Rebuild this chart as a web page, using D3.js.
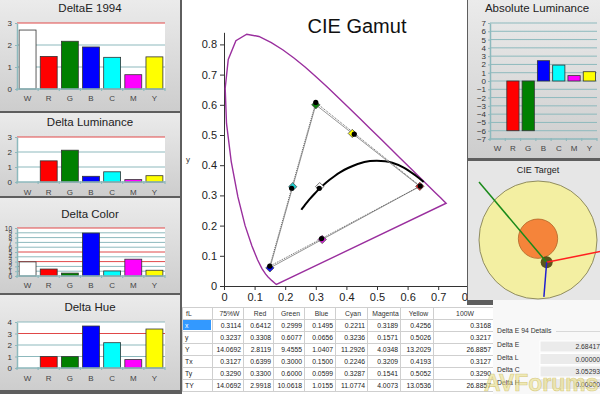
<!DOCTYPE html>
<html>
<head>
<meta charset="utf-8">
<script src="https://cdn.jsdelivr.net/npm/d3@7"></script>
<style>
body { margin: 0; background: #5e5e5e; }
svg { display: block; font-family: "Liberation Sans", Arial, sans-serif; }
</style>
</head>
<body>
<svg id="chart" width="600" height="394"></svg>
<script>
// ---- data ----
var cats = ["W", "R", "G", "B", "C", "M", "Y"];
var catColors = ["#ffffff", "#ff0000", "#008000", "#0000ff", "#00ffff", "#ff00ff", "#ffff00"];

var deltaE94   = [2.68, 1.48, 2.17, 1.91, 1.44, 0.65, 1.46];
var deltaLum   = [0, 1.41, 2.12, 0.38, 0.68, 0.16, 0.42];
var deltaColor = [2.94, 1.45, 0.6, 8.95, 1.05, 3.5, 1.2];
var deltaHue   = [0, 0.99, 0.99, 3.65, 2.2, 0.73, 3.39];
var absLum     = [0, -6.0, -6.0, 2.45, 1.92, 0.65, 1.12];

// CIE 1931 spectral locus (x, y), 420..650 nm
var locusX = [0.1714, 0.1689, 0.1644, 0.1566, 0.1440, 0.1355, 0.1241, 0.1096, 0.0913, 0.0687, 0.0454, 0.0235, 0.0082, 0.0039, 0.0139, 0.0389, 0.0743, 0.1142, 0.1547, 0.1929, 0.2296, 0.2658, 0.3016, 0.3373, 0.3731, 0.4087, 0.4441, 0.4788, 0.5125, 0.5448, 0.5752, 0.6029, 0.6270, 0.6658, 0.6915, 0.7079, 0.7190, 0.7260];
var locusY = [0.0051, 0.0069, 0.0109, 0.0177, 0.0297, 0.0399, 0.0578, 0.0868, 0.1327, 0.2007, 0.2950, 0.4127, 0.5384, 0.6548, 0.7502, 0.8120, 0.8338, 0.8262, 0.8059, 0.7816, 0.7543, 0.7243, 0.6923, 0.6589, 0.6245, 0.5896, 0.5547, 0.5202, 0.4866, 0.4544, 0.4242, 0.3965, 0.3725, 0.3340, 0.3083, 0.2920, 0.2809, 0.2740];

// black body curve
var planckX = [0.2527, 0.2565, 0.2637, 0.2719, 0.2807, 0.2952, 0.3064, 0.3221, 0.3451, 0.3608, 0.3805, 0.4053, 0.4369, 0.4770, 0.5267, 0.5497, 0.5857, 0.6249, 0.6526];
var planckY = [0.2525, 0.2577, 0.2671, 0.2776, 0.2884, 0.3048, 0.3166, 0.3318, 0.3516, 0.3636, 0.3768, 0.3907, 0.4041, 0.4137, 0.4133, 0.4081, 0.3931, 0.3669, 0.3446];

// table
var tableCols = ["75%W", "Red", "Green", "Blue", "Cyan", "Magenta", "Yellow", "100W"];
var tableRows = ["x", "y", "Y", "Tx", "Ty", "TY"];
var valX  = ["0.3114", "0.6412", "0.2999", "0.1495", "0.2211", "0.3189", "0.4256", "0.3168"];
var valY  = ["0.3237", "0.3308", "0.6077", "0.0656", "0.3236", "0.1571", "0.5026", "0.3217"];
var valL  = ["14.0692", "2.8119", "9.4555", "1.0407", "11.2926", "4.0348", "13.2029", "26.8857"];
var valTx = ["0.3127", "0.6399", "0.3000", "0.1500", "0.2246", "0.3209", "0.4193", "0.3127"];
var valTy = ["0.3290", "0.3300", "0.6000", "0.0599", "0.3287", "0.1541", "0.5052", "0.3290"];
var valTL = ["14.0692", "2.9918", "10.0618", "1.0155", "11.0774", "4.0073", "13.0536", "26.8857"];

// gamut points: W, R, G, B, C, M, Y (columns 0..6 of the table)
var gamutColors = ["#ffffff", "#ff2020", "#108010", "#1010ff", "#20d0d0", "#e020e0", "#ffff00"];

// CIE target (units of delta E)
var targetRings = [3, 1];
var targetPoint = [0.44, -1.13];
var targetVecX = [-3.44, 4.2, -0.14];
var targetVecY = [4.08, 0.84, -1.76];
var targetVecColors = ["#1a8a1a", "#ff2020", "#2020d0"];

var detailLabels = ["Delta E", "Delta L", "Delta C", "Delta H"];
var detailValues = ["2.68417", "0.00000", "3.05293", "0.00000"];

var teal = "#8db9bd";
var redLine = "#e04848";

var svg = d3.select("#chart");
var defs = svg.append("defs");
var grad = defs.append("linearGradient").attr("id", "panelGrad").attr("x1", 0).attr("y1", 0).attr("x2", 0).attr("y2", 1);
grad.append("stop").attr("offset", "0%").attr("stop-color", "#ebebeb");
grad.append("stop").attr("offset", "100%").attr("stop-color", "#cdcdcd");

svg.append("rect").attr("width", 600).attr("height", 394).attr("fill", "#5e5e5e");

// ---- left bar panels ----
function barPanel(p) {
    var g = svg.append("g");
    g.append("rect").attr("x", 0).attr("y", p.top).attr("width", 180).attr("height", p.h)
        .attr("fill", "url(#panelGrad)");
    g.append("text").attr("x", 90).attr("y", p.titleY).attr("text-anchor", "middle")
        .attr("font-size", 11.5).attr("fill", "#222").text(p.title);

    var x = d3.scaleBand().domain(cats).range([17, 165]).paddingInner(0.2).paddingOuter(0.1);
    var y = d3.scaleLinear().domain([0, p.max]).range([p.bottom, p.plotTop]);

    g.append("rect").attr("x", 17).attr("y", p.plotTop).attr("width", 148)
        .attr("height", p.bottom - p.plotTop).attr("fill", "#fff");

    g.selectAll(".grid").data(p.ticks.filter(function(t) { return t > 0; }))
        .enter().append("line")
            .attr("x1", 17).attr("x2", 165)
            .attr("y1", function(t) { return y(t); })
            .attr("y2", function(t) { return y(t); })
            .attr("stroke", function(t) { return p.red.indexOf(t) >= 0 ? redLine : teal; })
            .attr("stroke-width", 1);

    g.selectAll(".bar").data(p.values.map(function(v, i) { return {v: v, i: i}; }).filter(function(d) { return d.v > 0; }))
        .enter().append("rect")
            .attr("x", function(d) { return x(cats[d.i]); })
            .attr("y", function(d) { return y(d.v); })
            .attr("width", x.bandwidth())
            .attr("height", function(d) { return y(0) - y(d.v); })
            .attr("fill", function(d) { return catColors[d.i]; })
            .attr("stroke", "#333").attr("stroke-width", 0.8);

    // axes
    var yAxis = g.append("g").attr("transform", "translate(17,0)")
        .call(d3.axisLeft(y).tickValues(p.ticks).tickFormat(d3.format("d"))
            .tickSize(2).tickSizeOuter(0).tickPadding(3));
    yAxis.select(".domain").attr("stroke", teal).attr("stroke-width", 1.5);
    yAxis.selectAll(".tick line").attr("stroke", teal);
    yAxis.selectAll("text").attr("font-size", p.tickFont).attr("fill", "#333")
        .attr("font-family", "Liberation Sans, Arial, sans-serif");

    var edges = cats.map(function(c) { return x(c) - x.step() * 0.1; }).concat([165]);
    g.append("line").attr("x1", 17).attr("x2", 165).attr("y1", y(0)).attr("y2", y(0))
        .attr("stroke", teal).attr("stroke-width", 1.5);
    g.selectAll(".btick").data(edges).enter().append("line")
        .attr("x1", function(d) { return d; }).attr("x2", function(d) { return d; })
        .attr("y1", y(0) - 1).attr("y2", y(0) + 2)
        .attr("stroke", teal).attr("stroke-width", 1.2);

    g.selectAll(".cat").data(cats).enter().append("text")
        .attr("x", function(c) { return x(c) + x.bandwidth() / 2; })
        .attr("y", p.labelY).attr("text-anchor", "middle")
        .attr("font-size", 8).attr("fill", "#444").text(function(c) { return c; });
}

barPanel({top: 0, h: 111, title: "DeltaE 1994", titleY: 11.5, plotTop: 23, bottom: 89,
    values: deltaE94, max: 3, ticks: [0, 1, 2, 3], red: [3], labelY: 101, tickFont: 8});
barPanel({top: 113, h: 83, title: "Delta Luminance", titleY: 126, plotTop: 137, bottom: 182,
    values: deltaLum, max: 3, ticks: [0, 1, 2, 3], red: [3], labelY: 195, tickFont: 8});
barPanel({top: 198, h: 95, title: "Delta Color", titleY: 218, plotTop: 228, bottom: 276,
    values: deltaColor, max: 10, ticks: d3.range(0, 11), red: [3, 5, 10], labelY: 288, tickFont: 6.5});
barPanel({top: 295, h: 95, title: "Delta Hue", titleY: 311, plotTop: 322, bottom: 368,
    values: deltaHue, max: 4, ticks: [0, 1, 2, 3, 4], red: [3], labelY: 381, tickFont: 8});

// ---- CIE gamut chart ----
defs.append("clipPath").attr("id", "cieClip").append("rect")
    .attr("x", 182).attr("y", 0).attr("width", 285).attr("height", 305);
var cie = svg.append("g").attr("clip-path", "url(#cieClip)");
cie.append("rect").attr("x", 182).attr("y", 0).attr("width", 285).attr("height", 305).attr("fill", "#fff");

var xs = d3.scaleLinear().domain([0, 0.8]).range([224, 468.8]);
var ys = d3.scaleLinear().domain([0, 0.84]).range([286, 286 - 0.84 * 302]);
var tickFmt = function(d) { return d === 0 ? "0" : d3.format(".1f")(d); };
var tv = d3.range(0, 9).map(function(i) { return i / 10; });

var xAx = cie.append("g").attr("transform", "translate(0,286)")
    .call(d3.axisBottom(xs).tickValues(tv).tickFormat(tickFmt).tickSize(4).tickSizeOuter(0));
var yAx = cie.append("g").attr("transform", "translate(224,0)")
    .call(d3.axisLeft(ys).tickValues(tv).tickFormat(tickFmt).tickSize(4).tickSizeOuter(0));
[xAx, yAx].forEach(function(a) {
    a.select(".domain").attr("stroke", "#333");
    a.selectAll(".tick line").attr("stroke", "#333");
    a.selectAll("text").attr("font-size", 11).attr("fill", "#222")
        .attr("font-family", "Liberation Sans, Arial, sans-serif");
});
cie.append("text").attr("x", 186).attr("y", 162).attr("font-size", 8).attr("fill", "#333").text("y");

cie.append("text").attr("x", 357).attr("y", 33).attr("text-anchor", "middle")
    .attr("font-size", 20).attr("fill", "#111").text("CIE Gamut");

var locusLine = d3.line()
    .x(function(i) { return xs(locusX[i]); })
    .y(function(i) { return ys(locusY[i]); });
cie.append("path").attr("d", locusLine(d3.range(locusX.length)) + "Z")
    .attr("fill", "none").attr("stroke", "#9a2f9e").attr("stroke-width", 1.4);

var planckLine = d3.line().curve(d3.curveCatmullRom)
    .x(function(i) { return xs(planckX[i]); })
    .y(function(i) { return ys(planckY[i]); });
cie.append("path").attr("d", planckLine(d3.range(planckX.length)))
    .attr("fill", "none").attr("stroke", "#000").attr("stroke-width", 2);

var tri = [1, 2, 3];
var triTarget = d3.line()
    .x(function(i) { return xs(+valTx[i]); })
    .y(function(i) { return ys(+valTy[i]); });
var triMeas = d3.line()
    .x(function(i) { return xs(+valX[i]); })
    .y(function(i) { return ys(+valY[i]); });
cie.append("path").attr("d", triTarget(tri) + "Z").attr("fill", "none")
    .attr("stroke", "#8a8a8a").attr("stroke-width", 0.9);
cie.append("path").attr("d", triMeas(tri) + "Z").attr("fill", "none")
    .attr("stroke", "#555").attr("stroke-width", 0.9).attr("stroke-dasharray", "1,1");

var diamond = d3.symbol().type(d3.symbolSquare).size(34);
cie.selectAll(".tgt").data(d3.range(7)).enter().append("path")
    .attr("d", diamond)
    .attr("transform", function(i) { return "translate(" + xs(+valTx[i]) + "," + ys(+valTy[i]) + ") rotate(45)"; })
    .attr("fill", function(i) { return gamutColors[i]; })
    .attr("stroke", "#555").attr("stroke-width", 0.8);
cie.selectAll(".meas").data(d3.range(7)).enter().append("circle")
    .attr("cx", function(i) { return xs(+valX[i]); })
    .attr("cy", function(i) { return ys(+valY[i]); })
    .attr("r", 2.6).attr("fill", "#000");

// ---- table ----
var colEdges = [182, 212, 243, 273, 304, 335, 367, 400, 433, 493];
var rowTop = 307, rowH = 12;
var rowVals = [valX, valY, valL, valTx, valTy, valTL];
var tbl = svg.append("g").attr("font-size", 6.8);
tbl.append("rect").attr("x", 182).attr("y", rowTop - 2).attr("width", 311).attr("height", 89).attr("fill", "#fff");
tbl.append("rect").attr("x", 183).attr("y", rowTop + rowH + 1).attr("width", colEdges[1] - 184).attr("height", rowH - 2)
    .attr("fill", "#3399ff");
tbl.selectAll(".hl").data(d3.range(8)).enter().append("line")
    .attr("x1", 182).attr("x2", 493)
    .attr("y1", function(r) { return rowTop + r * rowH + 0.5; })
    .attr("y2", function(r) { return rowTop + r * rowH + 0.5; })
    .attr("stroke", "#cfcfcf");
tbl.selectAll(".vl").data(colEdges).enter().append("line")
    .attr("x1", function(x) { return x + 0.5; }).attr("x2", function(x) { return x + 0.5; })
    .attr("y1", rowTop).attr("y2", rowTop + 7 * rowH)
    .attr("stroke", "#cfcfcf");
tbl.append("text").attr("x", 186).attr("y", rowTop + 8.5).attr("fill", "#333").text("fL");
tbl.selectAll(".ch").data(tableCols).enter().append("text")
    .attr("x", function(c, i) { return (colEdges[i + 1] + colEdges[i + 2]) / 2 + 2; })
    .attr("y", rowTop + 8.5).attr("text-anchor", "middle").attr("fill", "#333")
    .text(function(c) { return c; });
tbl.selectAll(".rh").data(tableRows).enter().append("text")
    .attr("x", 185).attr("y", function(r, i) { return rowTop + (i + 1) * rowH + 8.5; })
    .attr("fill", function(r, i) { return i === 0 ? "#fff" : "#222"; })
    .text(function(r) { return r; });
rowVals.forEach(function(vals, r) {
    tbl.selectAll(".v" + r).data(vals).enter().append("text")
        .attr("x", function(v, i) { return colEdges[i + 2] - 2; })
        .attr("y", rowTop + (r + 1) * rowH + 8.5)
        .attr("text-anchor", "end").attr("fill", "#222")
        .text(function(v) { return v; });
});

// ---- Absolute Luminance ----
var al = svg.append("g");
al.append("rect").attr("x", 468).attr("y", 0).attr("width", 132).attr("height", 158).attr("fill", "url(#panelGrad)");
al.append("text").attr("x", 537).attr("y", 12).attr("text-anchor", "middle")
    .attr("font-size", 11.5).attr("fill", "#222").text("Absolute Luminance");
var ax = d3.scaleBand().domain(cats).range([490, 597]).paddingInner(0.2).paddingOuter(0.1);
var ay = d3.scaleLinear().domain([-7, 7]).range([139, 23]);
al.selectAll(".grid").data(d3.range(-6, 8)).enter().append("line")
    .attr("x1", 490).attr("x2", 597)
    .attr("y1", function(t) { return ay(t); }).attr("y2", function(t) { return ay(t); })
    .attr("stroke", teal);
al.selectAll(".bar").data(absLum.map(function(v, i) { return {v: v, i: i}; }).filter(function(d) { return d.v !== 0; }))
    .enter().append("rect")
        .attr("x", function(d) { return ax(cats[d.i]); })
        .attr("y", function(d) { return ay(Math.max(0, d.v)); })
        .attr("width", ax.bandwidth())
        .attr("height", function(d) { return Math.abs(ay(d.v) - ay(0)); })
        .attr("fill", function(d) { return catColors[d.i]; })
        .attr("stroke", "#333").attr("stroke-width", 0.8);
var alY = al.append("g").attr("transform", "translate(490,0)")
    .call(d3.axisLeft(ay).tickValues(d3.range(-7, 8)).tickFormat(d3.format("d"))
        .tickSize(2).tickSizeOuter(0).tickPadding(2));
alY.select(".domain").attr("stroke", teal).attr("stroke-width", 1.5);
alY.selectAll(".tick line").attr("stroke", teal);
alY.selectAll("text").attr("font-size", 8).attr("fill", "#333").attr("font-family", "Liberation Sans, Arial, sans-serif");
al.append("line").attr("x1", 490).attr("x2", 597).attr("y1", ay(-7)).attr("y2", ay(-7))
    .attr("stroke", teal).attr("stroke-width", 1.5);
al.selectAll(".btick").data(cats.map(function(c) { return ax(c) - ax.step() * 0.1; }).concat([597]))
    .enter().append("line")
        .attr("x1", function(d) { return d; }).attr("x2", function(d) { return d; })
        .attr("y1", ay(-7) - 1).attr("y2", ay(-7) + 2).attr("stroke", teal).attr("stroke-width", 1.2);
al.selectAll(".cat").data(cats).enter().append("text")
    .attr("x", function(c) { return ax(c) + ax.bandwidth() / 2; })
    .attr("y", 151).attr("text-anchor", "middle").attr("font-size", 8).attr("fill", "#444")
    .text(function(c) { return c; });

// ---- CIE Target ----
defs.append("clipPath").attr("id", "tgtClip").append("rect")
    .attr("x", 468).attr("y", 161).attr("width", 132).attr("height", 139);
var tg = svg.append("g").attr("clip-path", "url(#tgtClip)");
tg.append("rect").attr("x", 468).attr("y", 161).attr("width", 132).attr("height", 139).attr("fill", "#e6e6e6");
tg.append("text").attr("x", 538).attr("y", 173).attr("text-anchor", "middle")
    .attr("font-size", 9).attr("fill", "#222").text("CIE Target");
var tr = d3.scaleLinear().domain([0, 3]).range([0, 59]);
var tcx = 538, tcy = 240;
tg.selectAll(".ring").data(targetRings).enter().append("circle")
    .attr("cx", tcx).attr("cy", function(d, i) { return tcy - i * 1.3; })
    .attr("r", function(d) { return tr(d); })
    .attr("fill", function(d, i) { return i === 0 ? "#f3efa2" : "#f5843a"; })
    .attr("stroke", function(d, i) { return i === 0 ? "#77744a" : "#b0662a"; })
    .attr("stroke-width", 0.8);
var px = tcx + tr(targetPoint[0]), py = tcy - tr(targetPoint[1]);
tg.append("circle").attr("cx", px).attr("cy", py).attr("r", 6).attr("fill", "#4a420c").attr("opacity", 0.9);
tg.selectAll(".vec").data(d3.range(3)).enter().append("line")
    .attr("x1", px).attr("y1", py)
    .attr("x2", function(i) { return px + tr(targetVecX[i]); })
    .attr("y2", function(i) { return py - tr(targetVecY[i]); })
    .attr("stroke", function(i) { return targetVecColors[i]; })
    .attr("stroke-width", 1.5);

// ---- Delta E 94 details ----
var dd = svg.append("g");
dd.append("rect").attr("x", 493).attr("y", 300).attr("width", 107).attr("height", 94).attr("fill", "#f8f8f8");
dd.append("text").attr("x", 497).attr("y", 333).attr("font-size", 6.8).attr("fill", "#333").text("Delta E 94 Details");
dd.append("line").attr("x1", 556).attr("x2", 600).attr("y1", 331.5).attr("y2", 331.5).attr("stroke", "#d8d8d8");
dd.selectAll(".box").data(detailValues).enter().append("rect")
    .attr("x", 540).attr("y", function(d, i) { return 341 + i * 12.5; })
    .attr("width", 62).attr("height", 11).attr("fill", "#ebebeb").attr("stroke", "#fff");
dd.selectAll(".lab").data(detailLabels).enter().append("text")
    .attr("x", 497).attr("y", function(d, i) { return 347 + i * 12.5; })
    .attr("font-size", 6.8).attr("fill", "#333").text(function(d) { return d; });
dd.selectAll(".val").data(detailValues).enter().append("text")
    .attr("x", 600).attr("y", function(d, i) { return 349 + i * 12.5; })
    .attr("text-anchor", "end").attr("font-size", 6.8).attr("fill", "#333").text(function(d) { return d; });

// watermark
svg.append("text").attr("x", 484).attr("y", 391).attr("font-size", 23).attr("font-weight", "bold")
    .attr("fill", "#eadf8a").attr("fill-opacity", 0.6)
    .attr("stroke", "#c9b95a").attr("stroke-width", 0.6).attr("stroke-opacity", 0.7)
    .text("AVForums");
</script>
</body>
</html>
